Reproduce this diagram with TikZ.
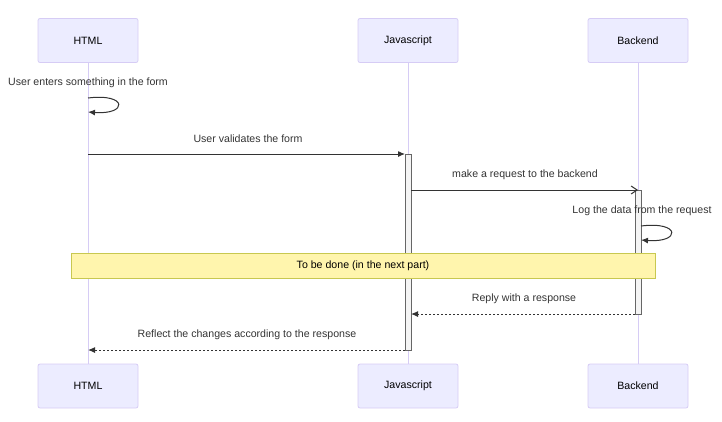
\documentclass[tikz,border=0pt]{standalone}
\usepackage{fontspec}
\setmainfont{Liberation Sans}
\usetikzlibrary{arrows.meta}
\definecolor{actfill}{HTML}{ECECFF}
\definecolor{actdraw}{HTML}{D6CCF5}
\definecolor{lifecol}{HTML}{D6CCF5}
\definecolor{msgcol}{HTML}{333333}
\definecolor{notefill}{HTML}{FFF5AD}
\definecolor{notedraw}{HTML}{C8C850}
\definecolor{activfill}{HTML}{F4F4F4}
\definecolor{activdraw}{HTML}{666666}
\tikzset{
  actor/.style={draw=actdraw, fill=actfill, rounded corners=2pt, minimum width=100pt, minimum height=44pt, line width=0.8pt, font=\fontsize{10.6}{13}\selectfont, text=black, inner sep=0pt},
  lifeline/.style={draw=lifecol, line width=0.8pt},
  msg/.style={draw=msgcol, line width=1pt, -{Latex[length=7pt,width=6pt]}},
  openmsg/.style={draw=msgcol, line width=1pt, -{Straight Barb[length=6pt,width=8pt]}},
  reply/.style={msg, dash pattern=on 2pt off 2pt},
  lbl/.style={font=\fontsize{10.6}{13}\selectfont, text=msgcol, inner sep=0pt},
  activ/.style={draw=activdraw, fill=activfill, line width=0.6pt},
  notebox/.style={draw=notedraw, fill=notefill, line width=0.8pt, minimum width=584pt, minimum height=25pt, inner sep=0pt, font=\fontsize{10.6}{13}\selectfont, text=black},
}
\begin{document}
\begin{tikzpicture}[x=1pt,y=-1pt]
\useasboundingbox (0,0) rectangle (722,421);
% lifelines
\coordinate (hT) at (88,62); \coordinate (hB) at (88,364);
\coordinate (jT) at (408,62); \coordinate (jB) at (408,364);
\coordinate (bT) at (638,62); \coordinate (bB) at (638,364);
\draw[lifeline] (hT) -- (hB);
\draw[lifeline] (jT) -- (jB);
\draw[lifeline] (bT) -- (bB);
% actors
\node[actor] (html) at (88,40.5) {HTML};
\node[actor] (js) at (408,40.5) {Javascript};
\node[actor] (be) at (638,40.5) {Backend};
\node[actor] (html2) at (88,386) {HTML};
\node[actor] (js2) at (408,386) {Javascript};
\node[actor] (be2) at (638,386) {Backend};
% activations
\draw[activ] (405,154) rectangle (411,350);
\draw[activ] (635,190) rectangle (641,314);
% named points
\coordinate (h1a) at (88,98); \coordinate (h1b) at (88,112);
\coordinate (h2) at (88,154); \coordinate (j2) at (405,154);
\coordinate (j3) at (411,190); \coordinate (b3) at (638,190);
\coordinate (b4a) at (641,226); \coordinate (b4b) at (641,240);
\coordinate (b5) at (635,314); \coordinate (j5) at (411,314);
\coordinate (j6) at (405,350); \coordinate (h6) at (88,350);
% messages
\node[lbl] (t1) at (88,82.5) {User enters something in the form};
\draw[msg] (h1a) .. controls (128,93) and (128,115) .. (h1b);
\node[lbl] (t2) at (248,138.5) {User validates the form};
\draw[msg] (h2) -- (j2);
\node[lbl] (t3) at (525,174.5) {make a request to the backend};
\draw[openmsg] (j3) -- (b3);
\node[lbl] (t4) at (642,210.5) {Log the data from the request};
\draw[msg] (b4a) .. controls (681,221) and (681,243) .. (b4b);
\node[notebox] (note) at (363,265.5) {To be done (in the next part)};
\node[lbl] (t5) at (524,298.5) {Reply with a response};
\draw[reply] (b5) -- (j5);
\node[lbl] (t6) at (247,334.5) {Reflect the changes according to the response};
\draw[reply] (j6) -- (h6);
\end{tikzpicture}
\end{document}
